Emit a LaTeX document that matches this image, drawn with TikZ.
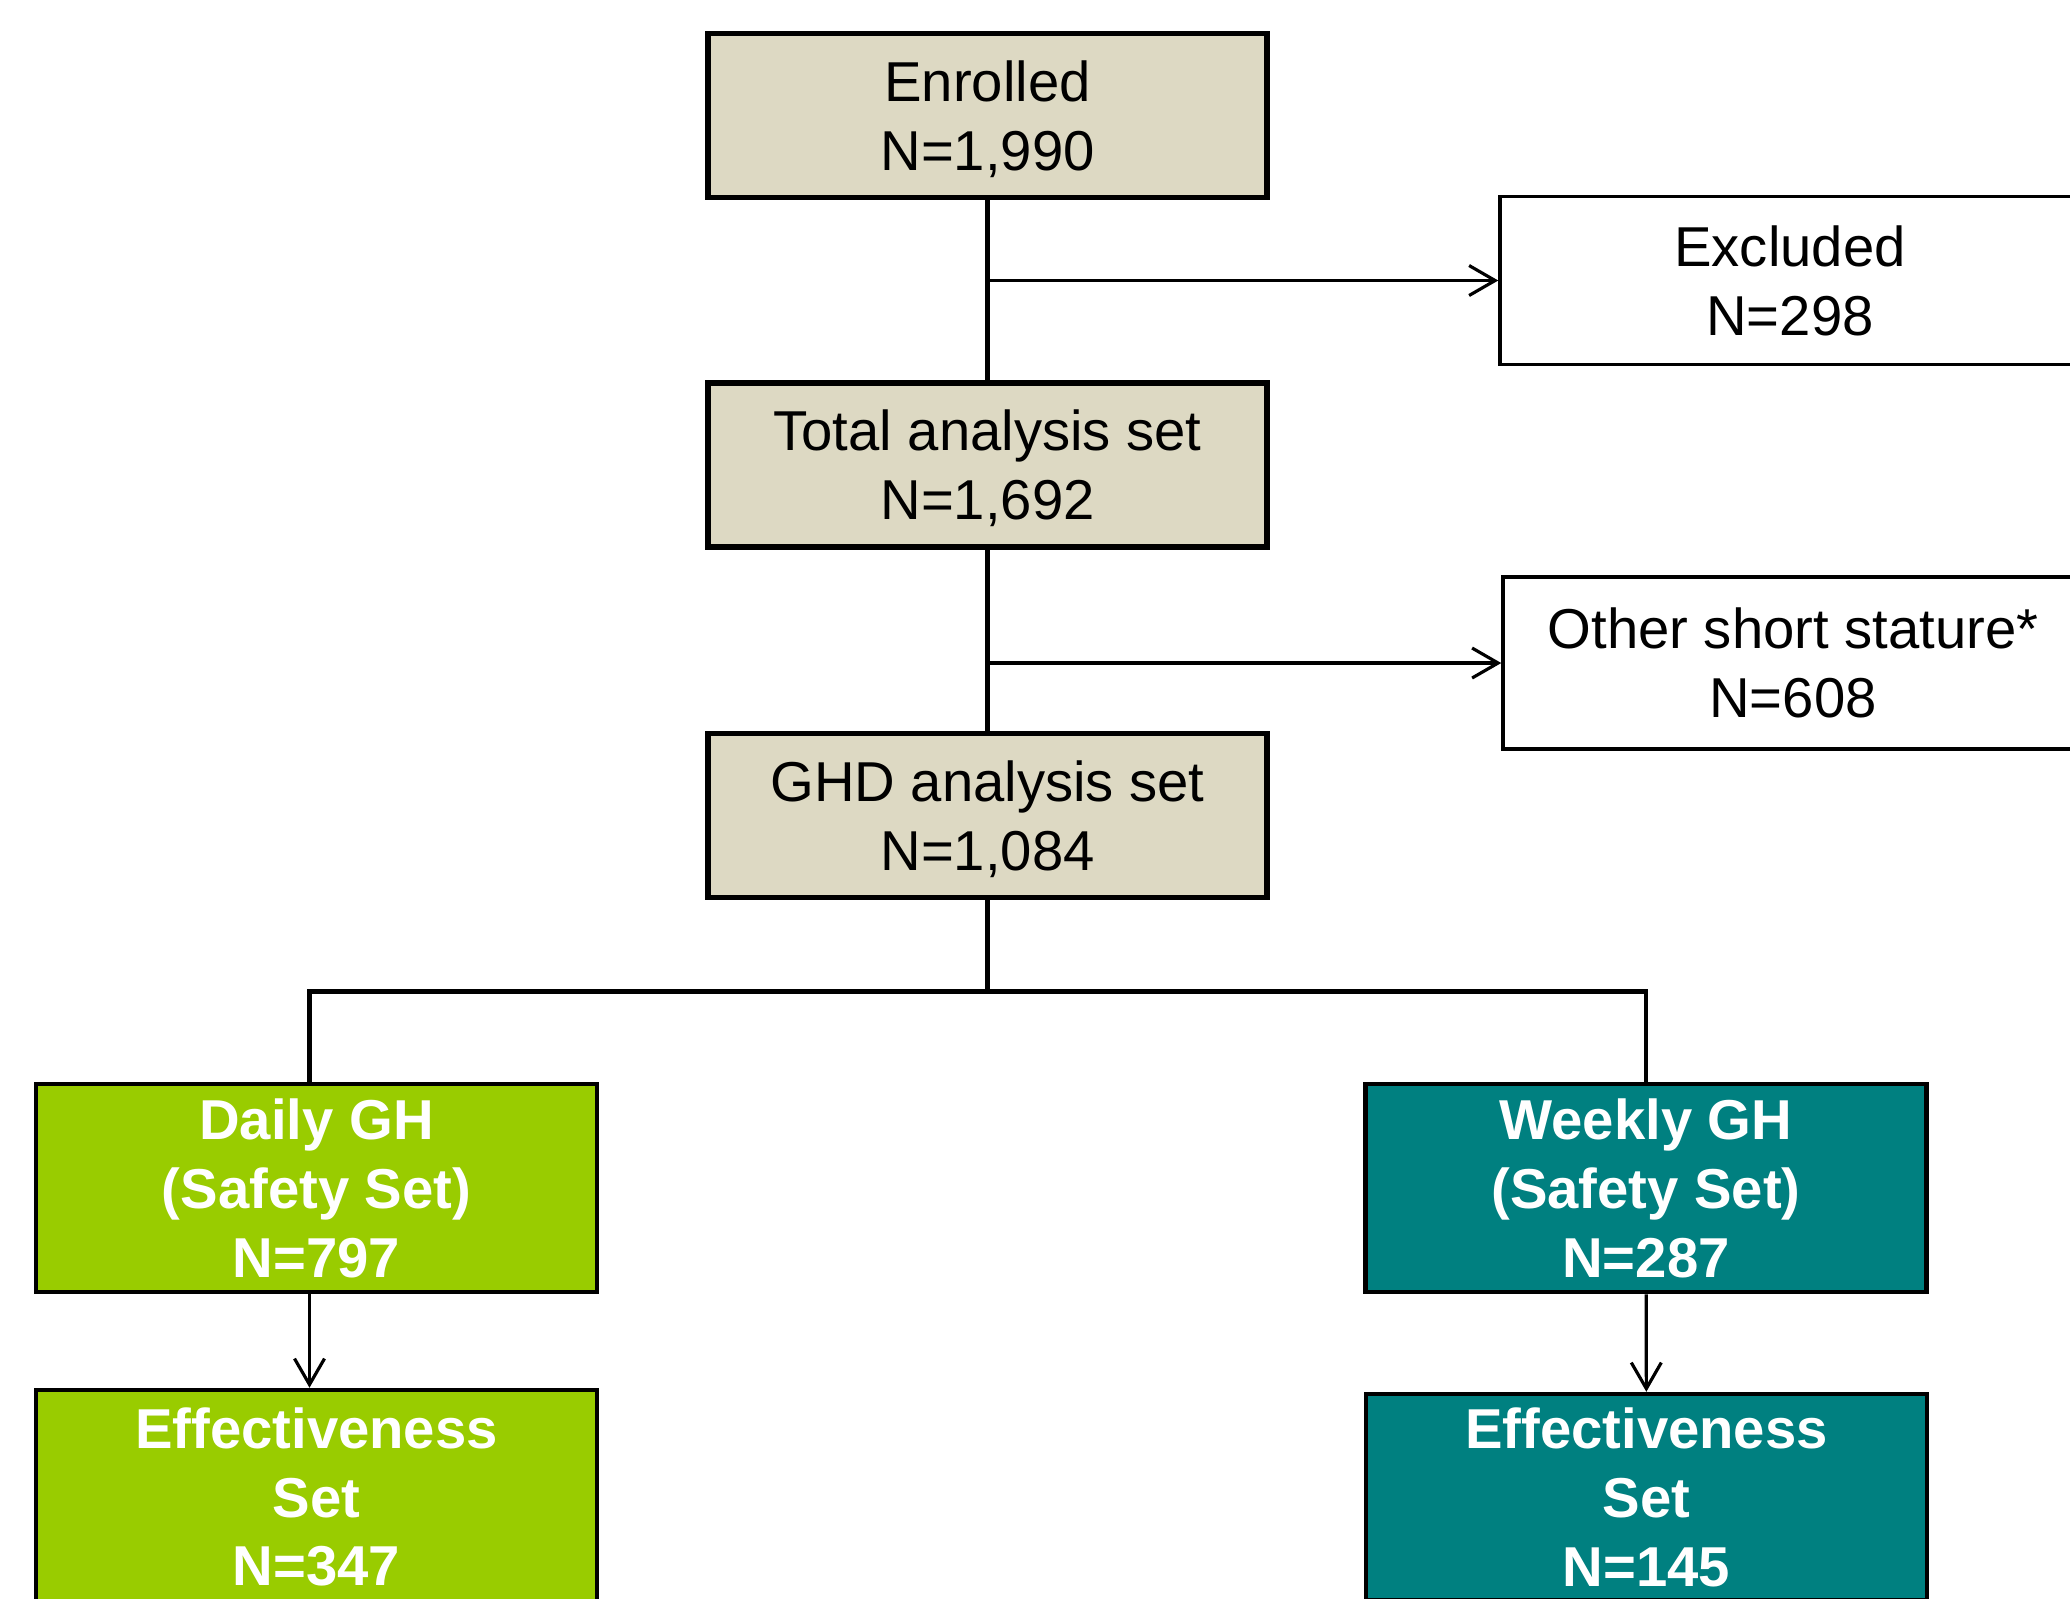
\documentclass[tikz,border=0pt]{standalone}
\usepackage{fontspec}
\setmainfont{Liberation Sans}
\usepackage{tikz}
\usetikzlibrary{arrows.meta, positioning}
\usepackage{xcolor}
\definecolor{tanbox}{RGB}{221,217,195}
\definecolor{dailygreen}{RGB}{153,204,0}
\definecolor{weeklyteal}{RGB}{0,128,128}

\begin{document}
\begin{tikzpicture}[
  every node/.style={font=\fontsize{16}{19.6}\selectfont, align=center, inner sep=0pt},
  setbox/.style={draw=black, line width=1.6pt, fill=tanbox, minimum width=5.59cm, minimum height=1.64cm, text depth=0pt},
  outbox/.style={draw=black, line width=1.0pt, fill=white, minimum width=5.8cm, minimum height=1.68cm},
  armbox/.style={draw=black, line width=1.3pt, text=white, font=\fontsize{16}{19.6}\selectfont\bfseries, minimum width=5.61cm, minimum height=2.08cm},
  trunk/.style={line width=1.4pt},
  branch/.style={line width=0.9pt, -{Straight Barb[length=2.6mm, width=3mm]}},
]
  \path[use as bounding box, fill=white] (0,0) rectangle (20.7,-15.98);
  \clip (0,0) rectangle (20.7,-15.98);

  % Main column
  \node[setbox] (enrolled) at (9.875,-1.155) {Enrolled\\N=1,990};
  \node[setbox] (total) at (9.875,-4.65) {Total analysis set\\N=1,692};
  \node[setbox] (ghd) at (9.875,-8.155) {GHD analysis set\\N=1,084};

  % Side boxes (cut at the right edge)
  \node[outbox] (excl) at (17.9,-2.805) {Excluded\\N=298};
  \node[outbox, minimum height=1.72cm] (other) at (17.93,-6.63) {Other short stature*\\N=608};

  % Treatment arms
  \node[armbox, fill=dailygreen] (daily) at (3.165,-11.88) {Daily GH\\(Safety Set)\\N=797};
  \node[armbox, fill=weeklyteal] (weekly) at (16.46,-11.88) {Weekly GH\\(Safety Set)\\N=287};
  \node[armbox, fill=dailygreen, minimum height=2.14cm] (effdaily) at (3.165,-14.97) {Effectiveness\\Set\\N=347};
  \node[armbox, fill=weeklyteal, minimum height=2.06cm] (effweekly) at (16.465,-14.97) {Effectiveness\\Set\\N=145};

  % Trunk
  \draw[trunk] (enrolled.south) -- (total.north);
  \draw[trunk] (total.south) -- (ghd.north);

  % Exclusions
  \coordinate (exclsplit) at (enrolled.south |- excl.west);
  \draw[branch] (exclsplit) -- (excl.west);
  \coordinate (othersplit) at (total.south |- other.west);
  \draw[branch] (othersplit) -- (other.west);

  % Split into arms
  \coordinate[below=0.91cm of ghd.south] (armsplit);
  \coordinate[xshift=-0.07cm] (dailytop) at (daily.north);
  \coordinate[xshift=-0.07cm] (dailybot) at (daily.south);
  \draw[trunk] (ghd.south) -- (armsplit);
  \draw[trunk] (dailytop) |- (armsplit) -| (weekly.north);

  % Effectiveness sets
  \draw[branch] (dailybot) -- (dailybot |- effdaily.north);
  \draw[branch] (weekly) -- (effweekly);
\end{tikzpicture}
\end{document}
